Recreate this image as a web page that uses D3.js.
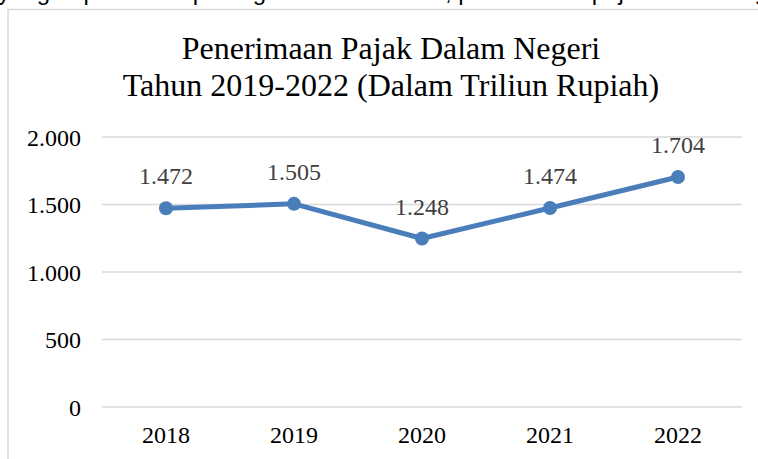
<!DOCTYPE html>
<html>
<head>
<meta charset="utf-8">
<script src="https://cdn.jsdelivr.net/npm/d3@7"></script>
<style>
  html, body { margin: 0; padding: 0; background: #fff; overflow: hidden; }
</style>
</head>
<body>
<div id="chart"></div>
<script>
// Penerimaan Pajak Dalam Negeri line chart

const years = ["2018", "2019", "2020", "2021", "2022"];
const revenue = [1472, 1505, 1248, 1474, 1704];
const yTicks = [0, 500, 1000, 1500, 2000];
const titleLines = ["Penerimaan Pajak Dalam Negeri", "Tahun 2019-2022 (Dalam Triliun Rupiah)"];

const width = 758;
const height = 459;
const margin = { top: 137, right: 16, bottom: 52, left: 102 };

const fmt = v => d3.format(",")(v).replace(/,/g, ".");
const serif = "'Liberation Serif', 'Times New Roman', serif";

const svg = d3.select("#chart")
  .append("svg")
  .attr("width", width)
  .attr("height", height);

// cropped line of text from the page above the chart
svg.append("text")
  .attr("x", -2)
  .attr("y", -0.5)
  .style("font-family", "'Liberation Sans', Arial, sans-serif")
  .style("font-size", "24px")
  .style("fill", "#000")
  .text("yang dapat dilihat pada grafik di bawah ini, penerimaan pajak dalam negeri terus bertumbuh, ");

// chart frame
svg.append("rect")
  .attr("x", 8)
  .attr("y", 9.5)
  .attr("width", 780)
  .attr("height", 470)
  .attr("fill", "#fff")
  .attr("stroke", "#d9d9d9")
  .attr("stroke-width", 1.5);

const xScale = d3.scaleBand()
  .domain(years)
  .range([margin.left, width - margin.right]);

const yScale = d3.scaleLinear()
  .domain([0, 2000])
  .range([height - margin.bottom, margin.top]);

// title
svg.append("g")
  .selectAll("text")
  .data(titleLines)
  .enter()
  .append("text")
  .attr("x", 391)
  .attr("y", (d, i) => 59 + i * 37)
  .attr("text-anchor", "middle")
  .style("font-family", serif)
  .style("font-size", "32px")
  .style("fill", "#000")
  .text(d => d);

// grid lines
svg.append("g")
  .selectAll("line")
  .data(yTicks)
  .enter()
  .append("line")
  .attr("x1", margin.left)
  .attr("x2", width - margin.right)
  .attr("y1", d => yScale(d))
  .attr("y2", d => yScale(d))
  .attr("stroke", "#d9d9d9")
  .attr("stroke-width", 1.5);

// y axis labels
const yAxis = d3.axisLeft(yScale)
  .tickValues(yTicks)
  .tickSize(0)
  .tickPadding(21)
  .tickFormat(fmt);

svg.append("g")
  .attr("transform", `translate(${margin.left},0)`)
  .call(yAxis)
  .call(g => g.select(".domain").remove())
  .selectAll("text")
  .attr("dy", "0.34em")
  .style("font-family", serif)
  .style("font-size", "24px")
  .style("fill", "#000");

// x axis labels
const xAxis = d3.axisBottom(xScale)
  .tickSize(0)
  .tickPadding(19);

svg.append("g")
  .attr("transform", `translate(0,${height - margin.bottom})`)
  .call(xAxis)
  .call(g => g.select(".domain").remove())
  .selectAll("text")
  .style("font-family", serif)
  .style("font-size", "24px")
  .style("fill", "#000");

const points = years.map((y, i) => ({ year: y, value: revenue[i] }));
const cx = d => xScale(d.year) + xScale.bandwidth() / 2;

// line
const line = d3.line()
  .x(cx)
  .y(d => yScale(d.value));

svg.append("path")
  .datum(points)
  .attr("d", line)
  .attr("fill", "none")
  .attr("stroke", "#4a7ebb")
  .attr("stroke-width", 5)
  .attr("stroke-linejoin", "round");

// markers
svg.selectAll("circle.pt")
  .data(points)
  .enter()
  .append("circle")
  .attr("class", "pt")
  .attr("cx", cx)
  .attr("cy", d => yScale(d.value))
  .attr("r", 7)
  .attr("fill", "#4a7ebb");

// data labels
svg.selectAll("text.lbl")
  .data(points)
  .enter()
  .append("text")
  .attr("class", "lbl")
  .attr("x", cx)
  .attr("y", d => yScale(d.value) - 24)
  .attr("text-anchor", "middle")
  .style("font-family", serif)
  .style("font-size", "24px")
  .style("fill", "#404040")
  .text(d => fmt(d.value));
</script>
</body>
</html>
